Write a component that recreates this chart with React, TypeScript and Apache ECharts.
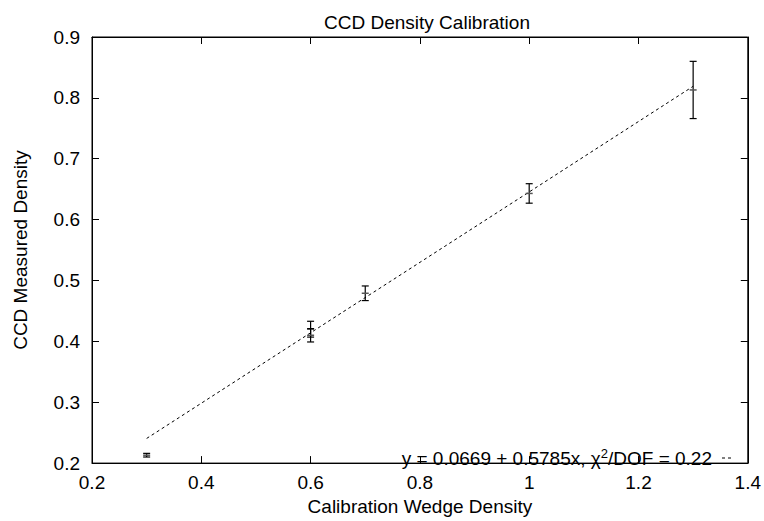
import React, { useEffect, useRef } from "react";
import * as echarts from "echarts";

const xVals = [0.3, 0.6, 0.6, 0.7, 1.0, 1.3];
const yVals = [0.213, 0.42, 0.41, 0.479, 0.643, 0.813];
const yErr = [0.003, 0.013, 0.011, 0.012, 0.016, 0.047];
const fitX = [0.3, 1.3];
const fitY = [0.2405, 0.819];
const xTicks = [0.2, 0.4, 0.6, 0.8, 1.0, 1.2, 1.4];
const yTicks = [0.2, 0.3, 0.4, 0.5, 0.6, 0.7, 0.8, 0.9];

const FONT = "'Liberation Sans', Arial, Helvetica, sans-serif";

export default function App() {
  const ref = useRef<HTMLDivElement>(null);
  useEffect(() => {
    document.body.style.margin = "0";
    if (!ref.current) return;
    const chart = echarts.init(ref.current, null, { renderer: "svg" });
    const errData = xVals.map((x, i) => [x, yVals[i], yVals[i] - yErr[i], yVals[i] + yErr[i]]);
    const fitData = fitX.map((x, i) => [x, fitY[i]]);
    const axisCommon = {
      type: "value" as const,
      axisLine: { show: true, onZero: false, lineStyle: { color: "#000", width: 1 } },
      axisTick: { show: true, inside: true, length: 7, lineStyle: { color: "#000" } },
      splitLine: { show: false },
    };
    const fmt = (v: number) => String(Number(v.toFixed(1)));
    chart.setOption({
      animation: false,
      backgroundColor: "#fff",
      title: {
        text: "CCD Density Calibration",
        left: 422,
        textAlign: "center",
        top: 8,
        textStyle: { fontFamily: FONT, fontSize: 19, fontWeight: "normal", color: "#000" },
      },
      grid: {
        left: 92,
        right: 12,
        top: 37,
        bottom: 48,
        containLabel: false,
        show: true,
        borderColor: "#000",
        borderWidth: 1,
        backgroundColor: "transparent",
      },
      xAxis: [
        {
          ...axisCommon,
          min: 0.2,
          max: 1.4,
          interval: 0.2,
          position: "bottom",
          name: "Calibration Wedge Density",
          nameLocation: "middle",
          nameGap: 27,
          nameTextStyle: { fontFamily: FONT, fontSize: 19, color: "#000" },
          axisLabel: {
            margin: 10,
            fontFamily: FONT,
            fontSize: 19,
            color: "#000",
            formatter: (v: number) => (xTicks.some((t) => Math.abs(t - v) < 1e-6) ? fmt(v) : ""),
          },
        },
        {
          ...axisCommon,
          min: 0.2,
          max: 1.4,
          interval: 0.2,
          position: "top",
          axisLabel: { show: false },
        },
      ],
      yAxis: [
        {
          ...axisCommon,
          min: 0.2,
          max: 0.9,
          interval: 0.1,
          position: "left",
          name: "CCD Measured Density",
          nameLocation: "middle",
          nameGap: 62,
          nameRotate: 90,
          nameTextStyle: { fontFamily: FONT, fontSize: 19, color: "#000" },
          axisLabel: {
            margin: 12,
            fontFamily: FONT,
            fontSize: 19,
            color: "#000",
            formatter: (v: number) => (yTicks.some((t) => Math.abs(t - v) < 1e-6) ? fmt(v) : ""),
          },
        },
        {
          ...axisCommon,
          min: 0.2,
          max: 0.9,
          interval: 0.1,
          position: "right",
          axisLabel: { show: false },
        },
      ],
      series: [
        {
          type: "line",
          data: fitData,
          xAxisIndex: 0,
          yAxisIndex: 0,
          symbol: "none",
          lineStyle: { color: "#000", width: 1, type: [3, 3] },
          z: 2,
        },
        {
          type: "custom",
          xAxisIndex: 0,
          yAxisIndex: 0,
          data: errData,
          z: 3,
          renderItem: (params: any, api: any) => {
            const x = api.value(0);
            const y = api.value(1);
            const lo = api.value(2);
            const hi = api.value(3);
            const pLo = api.coord([x, lo]);
            const pHi = api.coord([x, hi]);
            const p = api.coord([x, y]);
            const w = 3.5;
            const st = { stroke: "#000", lineWidth: 1.2 };
            return {
              type: "group",
              children: [
                { type: "line", shape: { x1: pLo[0], y1: pLo[1], x2: pHi[0], y2: pHi[1] }, style: st },
                { type: "line", shape: { x1: pLo[0] - w, y1: pLo[1], x2: pLo[0] + w, y2: pLo[1] }, style: st },
                { type: "line", shape: { x1: pHi[0] - w, y1: pHi[1], x2: pHi[0] + w, y2: pHi[1] }, style: st },
                { type: "line", shape: { x1: p[0] - w, y1: p[1], x2: p[0] + w, y2: p[1] }, style: { stroke: "#555", lineWidth: 1.5 } },
              ],
            };
          },
        },
      ],
      graphic: [
        {
          type: "text",
          right: 52,
          top: 447,
          style: {
            text: "y = 0.0669 + 0.5785x, {c|χ}{s|2}/DOF = 0.22",
            fontFamily: FONT,
            fontSize: 19,
            fill: "#000",
            rich: {
              c: { fontFamily: FONT, fontSize: 19, fill: "#000" },
              s: { fontFamily: FONT, fontSize: 13, fill: "#000", verticalAlign: "top", padding: [0, 0, 10, 0] },
            },
          },
        },
        {
          type: "line",
          shape: { x1: 722, y1: 458, x2: 734, y2: 458 },
          style: { stroke: "#000", lineWidth: 1, lineDash: [3, 3] },
        },
      ],
    });
    return () => chart.dispose();
  }, []);
  return <div ref={ref} style={{ width: 764, height: 521 }} />;
}
